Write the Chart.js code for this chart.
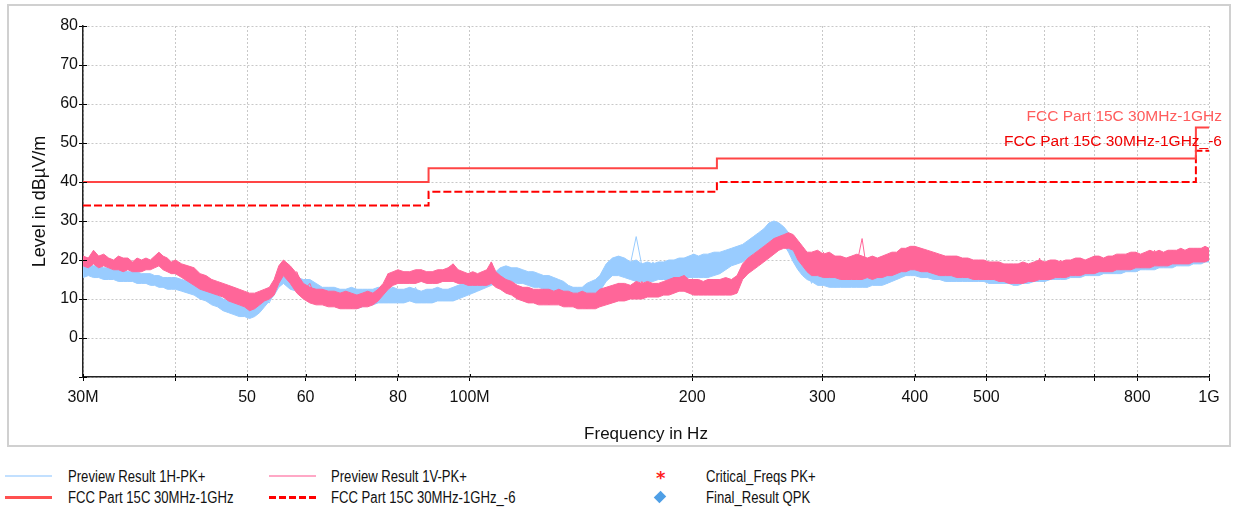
<!DOCTYPE html>
<html>
<head>
<meta charset="utf-8">
<script src="https://cdn.jsdelivr.net/npm/chart.js@4.4.1/dist/chart.umd.min.js"></script>
<style>
body { margin: 0; background: #fff; font-family: "Liberation Sans", Arial, sans-serif; }
#wrap { position: relative; width: 1233px; height: 512px; overflow: hidden; }
#frame { position: absolute; left: 7px; top: 4px; width: 1224px; height: 443px; border: 2px solid #d0d0d0; box-sizing: border-box; }
#chart { position: absolute; left: 0; top: 0; }
.lbl { position: absolute; font-size: 15.5px; white-space: nowrap; line-height: 20px; }
.leg { position: absolute; font-size: 16px; color: #111; white-space: nowrap; line-height: 20px; transform: scaleX(0.82); transform-origin: left center; }
.sw { position: absolute; }
</style>
</head>
<body>
<div id="wrap">
  <div id="frame"></div>
  <canvas id="chart" width="1233" height="450"></canvas>
  <div class="lbl" style="right:11px; top:106px; color:#ff5c5c;">FCC Part 15C 30MHz-1GHz</div>
  <div class="lbl" style="right:11px; top:131px; color:#f00000;">FCC Part 15C 30MHz-1GHz_-6</div>
  <div id="legend"></div>
</div>
<script>
// --- dados (MHz / dBµV/m) ---
const freqMHz = [
  30, 30.5, 31, 31.5, 32, 32.5, 33, 33.5, 34, 34.5, 35, 35.5, 36, 36.5, 37, 37.5, 38, 38.5, 39, 39.5,
  40, 40.8, 41.6, 42.4, 43.2, 44, 44.8, 45.6, 46.4, 47.2, 48, 48.8, 49.6, 50.4, 51.2, 52, 52.8, 53.6, 54.4, 55.2,
  56, 57.2, 58.4, 59.6, 60.8, 62, 63.2, 64.4, 65.6, 66.8, 68, 69.2, 70.4, 71.6, 72.8, 74, 75.2, 76.4, 77.6, 78.8,
  80, 81.5, 83, 84.5, 86, 87.5, 89, 90.5, 92, 93.5, 95, 96.5, 98, 99.5, 101, 102.5, 104, 105.5, 107, 108.5,
  110, 112, 114, 116, 118, 120, 122, 124, 126, 128, 130, 132, 134, 136, 138, 140, 142, 144, 146, 148,
  150, 153, 156, 159, 162, 165, 168, 171, 174, 177, 180, 183, 186, 189, 192, 195, 198, 201, 204, 207,
  210, 214, 218, 222, 226, 230, 234, 238, 242, 246, 250, 254, 258, 262, 266, 270, 274, 278, 282, 286,
  290, 295.5, 301, 306.5, 312, 317.5, 323, 328.5, 334, 339.5, 345, 350.5, 356, 361.5, 367, 372.5, 378, 383.5, 389, 394.5,
  400, 408, 416, 424, 432, 440, 448, 456, 464, 472, 480, 488, 496, 504, 512, 520, 528, 536, 544, 552,
  560, 570, 580, 590, 600, 610, 620, 630, 640, 650, 660, 670, 680, 690, 700, 710, 720, 730, 740, 750,
  760, 772, 784, 796, 808, 820, 832, 844, 856, 868, 880, 892, 904, 916, 928, 940, 952, 964, 976, 988, 1000
];

// Preview Result 1H-PK+ : topo e base da faixa de ruído
const previewHHi = [
  19.5, 19, 18.5, 18.5, 18, 18, 17.5, 17.5, 17.5, 17, 17, 17, 16.5, 16.5, 16.5, 16, 16, 15.5, 15.5, 15.5,
  15.5, 15, 14.5, 14, 13, 12.5, 12, 11, 10, 9.5, 9, 8.5, 8, 8, 8, 9, 10.5, 12, 13.5, 16,
  17.5, 16, 15.5, 15, 15, 14, 13, 13, 13, 12.5, 12.5, 13, 12.5, 12.5, 12.5, 12.5, 13, 13, 12.5, 13,
  12.5, 12.5, 13, 12.5, 12, 12.5, 12.5, 13, 12.5, 12.5, 13, 13.5, 14, 15, 15.5, 16, 16, 16.5, 17, 17,
  18, 18.5, 18, 18, 17.5, 17, 17, 16.5, 16, 16, 15.5, 15, 14.5, 13.5, 13, 13, 13, 14, 14.5, 15,
  16, 19, 20.5, 21, 20.5, 19.5, 20, 19, 19.5, 19, 19.5, 19.5, 20, 20, 20.5, 20.5, 21, 21.5, 21, 21.5,
  21.5, 22, 22, 22.5, 23, 23.5, 24, 25, 26, 27, 28, 29.5, 30, 29.5, 28.5, 27, 25, 23, 21.5, 20,
  19, 19, 18.5, 18.5, 18, 18, 18, 18, 18, 18, 18, 18.5, 18.5, 18.5, 19, 19, 19.5, 20, 20.5, 20.5,
  20.5, 20, 19.5, 19.5, 19, 19, 18.5, 18.5, 18, 18, 18, 18, 17.5, 17.5, 17.5, 17.5, 17.5, 17, 17, 17,
  17.5, 17.5, 18, 18, 18, 18, 18, 18.5, 18.5, 18.5, 18.5, 19, 19, 19, 19, 19.5, 19.5, 19.5, 19.5, 20,
  20, 20, 20.5, 20.5, 20.5, 21, 21, 21, 21, 21, 21.5, 21.5, 21.5, 21.5, 22, 22, 22, 22, 22.5, 22.5, 22.5
];
const previewHLo = [
  15.5, 16, 15.5, 15.5, 15, 15, 15, 14.5, 14.5, 14.5, 14.5, 14, 14, 14, 13.5, 13.5, 13, 13, 12.5, 12.5,
  12.5, 12, 11.5, 11, 10, 9.5, 8.5, 8, 7, 6.5, 6, 5.5, 5.5, 5, 5.5, 6.5, 8, 9.5, 11, 13,
  14, 12.5, 12, 11.5, 11, 10, 9.5, 9, 8.5, 8, 8, 8, 7.5, 8, 8.5, 8.5, 9, 9, 9, 9,
  9, 9, 9.5, 9, 9, 9, 9, 9.5, 9.5, 9.5, 9.5, 10, 10.5, 11, 11.5, 12, 12.5, 13, 13.5, 14,
  14.5, 14.5, 14.5, 14, 14, 13.5, 13, 13, 12.5, 12, 12, 11.5, 11, 10, 9.5, 9, 9.5, 10.5, 11, 11,
  12, 14.5, 16, 16, 15.5, 15, 14.5, 14.5, 14.5, 14.5, 15, 15, 15, 15, 15.5, 15.5, 15.5, 15.5, 15.5, 15.5,
  15.5, 16, 16.5, 17.5, 18.5, 19, 19.5, 20.5, 21.5, 22.5, 23.5, 24.5, 25, 25, 24, 22, 19.5, 17.5, 16, 15,
  14.5, 13.5, 13.5, 13, 13, 13, 13, 13, 13, 13, 13, 13.5, 13.5, 13.5, 14, 14.5, 15, 15.5, 16, 16,
  16, 15.5, 15.5, 15, 15, 14.5, 14.5, 14.5, 14.5, 14.5, 14.5, 14.5, 14.5, 14, 14, 14, 14, 14, 13.5, 13.5,
  14, 14, 14.5, 14.5, 14.5, 15, 15, 15, 15, 15.5, 15.5, 15.5, 16, 16, 16, 16, 16.5, 16.5, 16.5, 16.5,
  16.5, 17, 17, 17, 17.5, 17.5, 17.5, 17.5, 18, 18, 18, 18, 18.5, 18.5, 18.5, 18.5, 19, 19, 19, 19.5, 19.5
];
// Preview Result 1H-PK+ : pontas do ruído
const previewHPk = [
  16.5, 18.5, 16, 17.5, 15.5, 17, 15.5, 17, 15, 16.5, 15, 16.5, 14.5, 16, 14.5, 15.5, 13.5, 15, 13, 14.5,
  14.5, 13, 14, 11.5, 12.5, 10, 11, 8.5, 9.5, 7, 8, 6, 7.5, 5.5, 7.5, 7, 9.5, 9, 12, 14,
  16.5, 13, 15, 11.5, 14, 11, 12.5, 9.5, 12, 8.5, 11.5, 8, 11, 9, 12, 9.5, 12.5, 10, 12, 9.5,
  9.5, 12, 10, 13, 9.5, 11.5, 9, 12.5, 10, 12, 9.5, 12.5, 11, 13.5, 12, 15, 13, 15.5, 14, 16.5,
  17.5, 15, 18, 14.5, 17, 14, 16, 13.5, 15.5, 13, 14.5, 12, 13.5, 10.5, 12.5, 9.5, 12, 10.5, 13.5, 12,
  14, 18.5, 16, 20.5, 17, 19, 26, 18.5, 15, 19.5, 16, 18, 15.5, 19, 16.5, 20, 17, 21.5, 16, 19,
  16, 21, 17.5, 22, 19, 23, 20.5, 24.5, 22, 26, 24, 28.5, 26, 29.5, 25.5, 27, 22, 20, 17, 19,
  14, 17.5, 13.5, 17, 13, 16.5, 13, 17, 14, 16, 13, 17, 13.5, 16.5, 14, 17, 15, 18, 16, 19,
  17, 20.5, 16.5, 19.5, 15, 18.5, 14.5, 18, 15, 17.5, 14.5, 18, 14.5, 17, 14, 17.5, 14, 17, 13.5, 16.5,
  14, 17, 14.5, 18, 15, 17.5, 15, 18, 15.5, 18, 15.5, 18.5, 16, 18.5, 16, 19, 16.5, 19, 16.5, 19.5,
  17, 19.5, 17.5, 20, 17.5, 20, 18, 20.5, 18, 20.5, 18.5, 21, 18.5, 21, 19, 21.5, 19, 21.5, 19.5, 22, 20
];

// Preview Result 1V-PK+ : topo e base da faixa de ruído
const previewVHi = [
  21, 20.5, 22.5, 21, 21.5, 20.5, 20, 21, 20.5, 20.5, 19.5, 20.5, 20, 20.5, 20, 21, 22, 21, 20.5, 19.5,
  20, 19, 18.5, 18, 16.5, 16, 15, 14.5, 14, 13.5, 13, 12.5, 12, 11.5, 11.5, 12, 12.5, 13, 15, 18.5,
  20, 18.5, 16.5, 14, 13, 12.5, 12.5, 12, 12, 11.5, 12, 11.5, 11, 11.5, 12, 11.5, 12.5, 14, 16.5, 17,
  17.5, 17, 17, 17.5, 17.5, 17, 17, 17.5, 17.5, 18, 19, 17.5, 17, 16.5, 17, 16.5, 17, 17.5, 19.5, 17,
  16, 15, 14.5, 13.5, 13, 13, 12.5, 12.5, 12.5, 12.5, 12, 12.5, 12, 12, 11.5, 11.5, 12, 11.5, 11.5, 11.5,
  12.5, 13, 13.5, 14, 14, 13.5, 14.5, 14, 14.5, 14, 14, 14.5, 15, 15.5, 15.5, 16, 15, 15, 15, 14.5,
  15, 15, 15, 15.5, 15, 16, 19, 20.5, 21.5, 22.5, 23.5, 24.5, 25.5, 26, 26.5, 27, 26.5, 25, 23.5, 22,
  22, 22.5, 21.5, 22, 21, 21, 20.5, 21, 21.5, 21, 20.5, 21, 20.5, 21, 21.5, 22, 22, 23, 23, 23.5,
  23.5, 23, 22.5, 22, 21.5, 21, 21, 21, 20.5, 20.5, 20, 20, 20, 19.5, 19.5, 19.5, 19, 19, 19, 19,
  19.5, 19, 19.5, 20, 19.5, 20, 20, 19.5, 20, 20, 20.5, 20.5, 20, 20.5, 21, 21, 20.5, 21, 21, 21.5,
  21.5, 21.5, 22, 22, 21.5, 22, 22.5, 22, 22.5, 22, 22.5, 22.5, 22.5, 23, 22.5, 23, 23, 23, 23, 23.5, 23
];
const previewVLo = [
  18.5, 18, 19, 18, 18.5, 18, 17.5, 17.5, 17, 17.5, 17, 17, 17, 17.5, 17.5, 18, 18.5, 17.5, 17, 16.5,
  16.5, 15.5, 14.5, 13.5, 12.5, 12, 11.5, 11, 10.5, 9.5, 9, 8.5, 8, 7, 7.5, 8.5, 9.5, 10, 11, 14,
  16, 14, 11.5, 10, 9, 8.5, 8.5, 8, 8, 7.5, 7.5, 7.5, 7.5, 8, 8, 8.5, 9.5, 11, 12.5, 13.5,
  14, 14, 14, 14, 14.5, 14, 14, 14, 14.5, 14.5, 14.5, 14, 14, 13.5, 13.5, 13.5, 13.5, 13.5, 14, 13,
  12.5, 11.5, 11, 10, 9.5, 9, 9, 8.5, 8.5, 8.5, 8.5, 8.5, 8, 8, 8, 7.5, 7.5, 7.5, 7.5, 7.5,
  8, 8.5, 9, 9.5, 9.5, 10, 10, 10, 10.5, 10.5, 10.5, 11, 11, 11.5, 12, 12, 11.5, 11, 11, 11,
  11, 11, 11, 11, 11, 11.5, 15, 16.5, 17.5, 18.5, 19.5, 20.5, 21.5, 22.5, 23, 23, 22.5, 20, 18.5, 17,
  16, 16, 15.5, 15.5, 15.5, 15, 15, 15, 15, 15, 15.5, 15, 15.5, 15.5, 16, 16, 16.5, 17, 17, 17.5,
  17.5, 17, 17, 16.5, 16, 16, 16, 15.5, 15.5, 15.5, 15, 15, 15, 15, 15, 14.5, 14.5, 14, 14, 14,
  14, 14.5, 14.5, 15, 15, 15, 15.5, 15.5, 15.5, 16, 16, 16, 16.5, 16.5, 16.5, 17, 17, 17, 17, 17.5,
  17.5, 17.5, 17.5, 18, 18, 18, 18, 18.5, 18.5, 18.5, 18.5, 19, 19, 19, 19, 19, 19.5, 19.5, 19.5, 19.5, 20
];
// Preview Result 1V-PK+ : pontas do ruído
const previewVPk = [
  20.5, 19, 22, 18.5, 21, 19.5, 18, 20.5, 18, 20, 17.5, 19.5, 18, 20, 18.5, 19.5, 21.5, 19, 20, 17,
  19.5, 16.5, 18, 14.5, 16, 12.5, 15, 12, 13.5, 10.5, 12.5, 9, 11, 7.5, 10.5, 9, 12, 10.5, 13, 17,
  19.5, 15.5, 17, 12, 14, 10, 12.5, 8.5, 11.5, 8, 11, 7.5, 10.5, 8.5, 11, 9, 11, 13, 16.5, 14,
  17, 14.5, 16.5, 14, 17.5, 15, 16.5, 14.5, 17, 15, 19, 15, 16.5, 14, 16, 14.5, 17, 14, 19.5, 15,
  15.5, 12, 14, 11, 13, 9.5, 12, 9, 12.5, 8.5, 11.5, 9, 12, 8.5, 11, 8, 11.5, 7.5, 10.5, 8,
  9, 12.5, 10, 14, 10.5, 13, 11, 14.5, 11.5, 13.5, 10.5, 14, 12, 15.5, 13, 16, 12.5, 15, 11.5, 14,
  12, 15, 11.5, 14.5, 12, 15.5, 17, 20, 18, 21.5, 20.5, 24, 22, 25.5, 23.5, 26.5, 24, 23, 19.5, 21.5,
  21, 16.5, 22, 17, 20.5, 16, 19.5, 15.5, 19, 25.5, 16.5, 19.5, 15.5, 20, 16, 21, 17, 22, 18, 21.5,
  18, 23, 18.5, 21.5, 17, 20.5, 16.5, 21, 16, 19.5, 15.5, 20, 15, 19.5, 15.5, 19, 14.5, 18.5, 14.5, 19,
  14.5, 18.5, 15, 20.5, 15.5, 19, 16, 20, 16, 19.5, 16.5, 20.5, 16.5, 19.5, 17, 21, 17, 20, 17.5, 21,
  17.5, 21, 18, 22, 18, 21, 18.5, 22.5, 18.5, 21.5, 19, 22.5, 19, 21.5, 19.5, 23, 19.5, 22.5, 20, 23.5, 20.5
];

// limite FCC Part 15C (degraus)
const limitFreq = [30, 88, 216, 960, 1000];
const limitLevel = [40, 43.5, 46, 54, 54];
const limitLevel6 = [34, 37.5, 40, 48, 48];

const xTickValues = [30, 40, 50, 60, 70, 80, 100, 200, 300, 400, 500, 600, 700, 800, 1000];
const xTickLabels = { 30: '30M', 50: '50', 60: '60', 80: '80', 100: '100M', 200: '200', 300: '300', 400: '400', 500: '500', 800: '800', 1000: '1G' };

const legendItems = [
  { text: 'Preview Result 1H-PK+', kind: 'line', color: '#c2e0ff', col: 0, row: 0 },
  { text: 'FCC Part 15C 30MHz-1GHz', kind: 'line', color: '#ff5050', col: 0, row: 1, w: 3 },
  { text: 'Preview Result 1V-PK+', kind: 'line', color: '#ffa8c6', col: 1, row: 0 },
  { text: 'FCC Part 15C 30MHz-1GHz_-6', kind: 'dash', color: '#ff0000', col: 1, row: 1 },
  { text: 'Critical_Freqs PK+', kind: 'star', color: '#ff2020', col: 2, row: 0 },
  { text: 'Final_Result QPK', kind: 'diamond', color: '#4f9fe6', col: 2, row: 1 }
];

const pts = (xs, ys) => xs.map((f, i) => ({ x: f, y: ys[i] }));

const font = { family: '"Liberation Sans", Arial, sans-serif', size: 16 };

// marcas de escala do lado de dentro do eixo
const innerTicks = {
  id: 'innerTicks',
  afterDraw(chart) {
    const { ctx, chartArea: a, scales: { x, y } } = chart;
    ctx.save();
    ctx.strokeStyle = '#000';
    ctx.lineWidth = 1;
    ctx.beginPath();
    y.ticks.forEach(t => {
      const py = Math.round(y.getPixelForValue(t.value)) + 0.5;
      ctx.moveTo(a.left, py); ctx.lineTo(a.left + 4, py);
    });
    x.ticks.forEach(t => {
      const px = Math.round(x.getPixelForValue(t.value)) + 0.5;
      ctx.moveTo(px, a.bottom); ctx.lineTo(px, a.bottom - 3);
    });
    ctx.stroke();
    ctx.restore();
  }
};

const pink = '#ff6699';
const blue = '#99ccff';

new Chart(document.getElementById('chart'), {
  type: 'line',
  data: {
    datasets: [
      { label: 'FCC Part 15C 30MHz-1GHz', data: pts(limitFreq, limitLevel), stepped: true, borderColor: '#ff4545', borderWidth: 2, fill: false, order: 0 },
      { label: 'FCC Part 15C 30MHz-1GHz_-6', data: pts(limitFreq, limitLevel6), stepped: true, borderColor: '#ff0000', borderWidth: 2, borderDash: [8, 3], fill: false, order: 0 },
      { label: 'Preview Result 1V-PK+', data: pts(freqMHz, previewVHi), borderColor: pink, backgroundColor: pink, borderWidth: 1, fill: '+1', order: 1 },
      { label: 'Preview Result 1V-PK+ (min)', data: pts(freqMHz, previewVLo), borderColor: pink, borderWidth: 1, fill: false, order: 1 },
      { label: 'Preview Result 1V-PK+ (pk)', data: pts(freqMHz, previewVPk), borderColor: pink, borderWidth: 1, fill: false, order: 1 },
      { label: 'Preview Result 1H-PK+', data: pts(freqMHz, previewHHi), borderColor: blue, backgroundColor: blue, borderWidth: 1, fill: '+1', order: 2 },
      { label: 'Preview Result 1H-PK+ (min)', data: pts(freqMHz, previewHLo), borderColor: blue, borderWidth: 1, fill: false, order: 2 },
      { label: 'Preview Result 1H-PK+ (pk)', data: pts(freqMHz, previewHPk), borderColor: blue, borderWidth: 1, fill: false, order: 2 }
    ]
  },
  options: {
    responsive: false,
    animation: false,
    elements: { point: { radius: 0 }, line: { tension: 0 } },
    layout: { padding: { top: 26, right: 24, left: 0, bottom: 0 } },
    plugins: { legend: { display: false }, tooltip: { enabled: false } },
    scales: {
      x: {
        type: 'logarithmic',
        min: 30, max: 1000,
        afterBuildTicks: s => { s.ticks = xTickValues.map(v => ({ value: v })); },
        afterFit: s => { s.height = 73; },
        ticks: { autoSkip: false, maxRotation: 0, padding: 7, color: '#111', font, callback: v => xTickLabels[v] || '' },
        grid: { color: '#c8c8c8', tickColor: '#000', tickLength: 4, tickBorderDash: [] },
        border: { color: '#222', width: 1.5, dash: [2, 2] },
        title: { display: true, text: 'Frequency in Hz', color: '#111', font: { ...font, size: 17 }, padding: { top: 0, bottom: 5 } }
      },
      y: {
        min: -10, max: 80,
        afterFit: s => { s.width = 83; },
        ticks: { stepSize: 5, padding: 1, color: '#111', font, callback: v => (v % 10 === 0 && v > -10) ? v : '' },
        grid: { color: '#c8c8c8', tickColor: '#000', tickLength: 4, tickBorderDash: [] },
        border: { color: '#222', width: 1.5, dash: [2, 2] },
        title: { display: true, text: 'Level in dBµV/m', color: '#111', font: { ...font, size: 18 }, padding: { top: 29, bottom: 0 } }
      }
    }
  },
  plugins: [innerTicks]
});

// Legenda
const legend = document.getElementById('legend');
const colX = [5, 269, 640];
const textX = [68, 331, 706];
const rowY = [477, 498];
legendItems.forEach(it => {
  const sw = document.createElement('div');
  sw.className = 'sw';
  const y = rowY[it.row];
  if (it.kind === 'line') {
    sw.style.cssText = `left:${colX[it.col]}px; top:${y - 2}px; width:47px; height:0; border-top:${it.w || 2}px solid ${it.color};`;
  } else if (it.kind === 'dash') {
    sw.style.cssText = `left:${colX[it.col]}px; top:${y - 2}px; width:47px; height:3px; background:repeating-linear-gradient(to right, ${it.color} 0 7px, transparent 7px 10px);`;
  } else if (it.kind === 'star') {
    sw.style.cssText = `left:${colX[it.col] + 16}px; top:${y - 8}px; font:bold 18px "DejaVu Sans", sans-serif; color:${it.color}; line-height:18px;`;
    sw.textContent = '*';
  } else {
    sw.style.cssText = `left:${colX[it.col] + 16}px; top:${y - 5}px; width:8px; height:8px; background:${it.color}; transform:rotate(45deg) scaleY(1.2);`;
  }
  legend.appendChild(sw);
  const t = document.createElement('div');
  t.className = 'leg';
  t.style.left = textX[it.col] + 'px';
  t.style.top = (y - 10) + 'px';
  t.textContent = it.text;
  legend.appendChild(t);
});
</script>
</body>
</html>
